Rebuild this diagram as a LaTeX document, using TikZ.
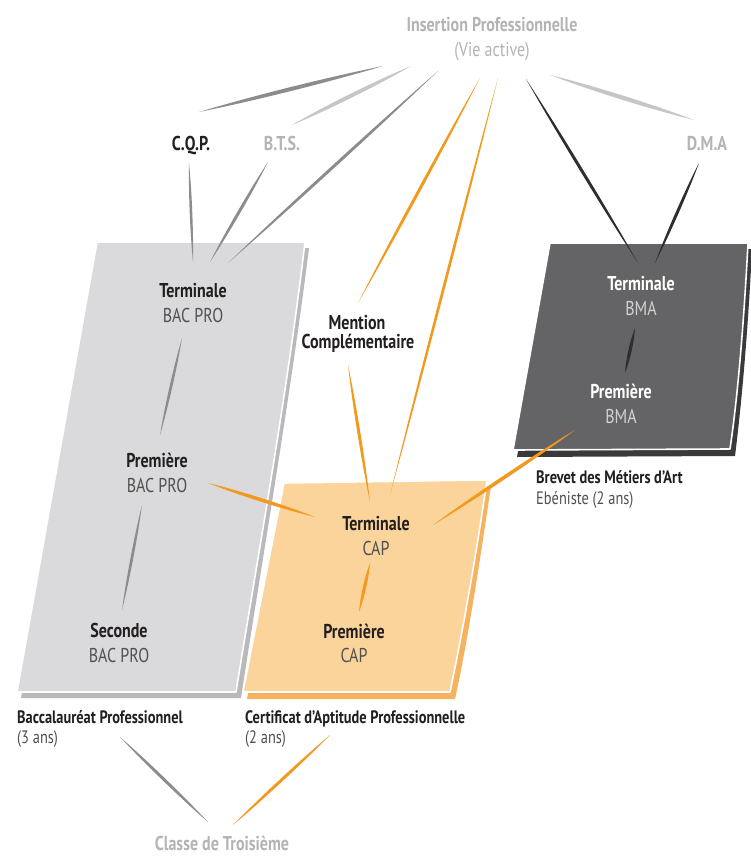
\documentclass[tikz,border=0pt]{standalone}
\usepackage{fontspec}
\setmainfont{PT Sans}[FakeStretch=0.8]
\usetikzlibrary{calc}
\definecolor{titlegray}{HTML}{B4B4B4}
\definecolor{dtext}{HTML}{231F20}
\definecolor{stext}{HTML}{505050}
\definecolor{bmatext}{HTML}{D2D2D2}
\definecolor{gmid}{HTML}{8C8C8C}
\definecolor{glight}{HTML}{C6C6C6}
\definecolor{gdark}{HTML}{2E2E30}
\definecolor{corange}{HTML}{F39A1E}
\definecolor{pgray}{HTML}{DADADC}
\definecolor{pgrayback}{HTML}{B9B9BC}
\definecolor{porange}{HTML}{FBD49B}
\definecolor{porangeback}{HTML}{F6B35F}
\definecolor{pdark}{HTML}{646466}
\definecolor{pdarkback}{HTML}{3A3A3C}
% tapered stroke: #3 = control offset (max width = 1.5 x #3)
\newcommand{\taperline}[4]{%
  \fill[#4] (#1) .. controls ($(#1)!0.3!(#2)!#3!90:(#2)$) and ($(#1)!0.7!(#2)!#3!90:(#2)$) .. (#2)
    .. controls ($(#1)!0.7!(#2)!#3!-90:(#2)$) and ($(#1)!0.3!(#2)!#3!-90:(#2)$) .. (#1) -- cycle;}
\tikzset{
  lbl/.style={inner sep=0pt, anchor=base, text=dtext, font=\fontsize{20}{22}\selectfont\bfseries},
  sublbl/.style={inner sep=0pt, anchor=base, text=stext, font=\fontsize{20}{22}\selectfont},
  wlbl/.style={lbl, text=white},
  wsub/.style={sublbl, text=bmatext},
  ttl/.style={inner sep=0pt, anchor=base, text=titlegray, font=\fontsize{20}{22}\selectfont\bfseries},
  ttlsub/.style={inner sep=0pt, anchor=base, text=titlegray, font=\fontsize{20}{22}\selectfont},
  caplbl/.style={inner sep=0pt, anchor=base west, text=dtext, font=\fontsize{18}{20}\selectfont\bfseries},
  capsub/.style={inner sep=0pt, anchor=base west, text=stext, font=\fontsize{18}{20}\selectfont},
  frontpage/.style={draw=white, line width=1.6pt, line join=round},
}
\begin{document}
\begin{tikzpicture}[x=1pt,y=-1pt]
\useasboundingbox[fill=white] (0,0) rectangle (750,856);

% ---------- panels ----------
% left (Bac Pro)
\fill[pgrayback] (101,248) -- (309,248) .. controls (290,400) and (262,560) .. (241,698) -- (21,698) -- cycle;
\path[frontpage, fill=pgray] (97,242) -- (305,242) .. controls (287,395) and (258,555) .. (236,692) -- (17,692) -- cycle;
% middle (CAP)
\fill[porangeback] (288,488) -- (491,486) .. controls (480,560) and (468,640) .. (455,699) -- (247,699) -- cycle;
\path[frontpage, fill=porange] (284,483) -- (487,480) .. controls (477,550) and (463,630) .. (450,692) -- (243,692) -- cycle;
% right (BMA)
\fill[pdarkback] (554,249) -- (752,249) .. controls (748,330) and (742,400) .. (735,456) -- (517,457) -- cycle;
\path[frontpage, fill=pdark] (550,243) -- (748,243) .. controls (744,320) and (738,395) .. (730,449) -- (513,450) -- cycle;

% ---------- connector ends ----------
\coordinate (ip1) at (383,66);  \coordinate (cqp1) at (199,112);
\coordinate (ip2) at (411,66);  \coordinate (bts1) at (292,125);
\coordinate (ip3) at (438,71);  \coordinate (tb3) at (228,263);
\coordinate (ip4) at (480,78);  \coordinate (mc1) at (358,303);
\coordinate (ip5) at (498,78);  \coordinate (tc2) at (390,495);
\coordinate (ip6) at (526,79);  \coordinate (tm1) at (638,263);
\coordinate (ip7) at (550,75);  \coordinate (dma1) at (694,120);
\coordinate (dma2) at (699,163); \coordinate (tm2) at (655,263);
\coordinate (cqp2) at (189,163); \coordinate (tb1) at (193,262);
\coordinate (bts2) at (268,162); \coordinate (tb2) at (210,262);
\coordinate (tb4) at (182,338);  \coordinate (pb1) at (160,435);
\coordinate (pb2) at (142,505);  \coordinate (sb1) at (122,610);
\coordinate (pb3) at (208,483);  \coordinate (tc1) at (315,517);
\coordinate (mc2) at (348,365);  \coordinate (tc3) at (370,502);
\coordinate (pm2) at (575,430);  \coordinate (tc4) at (433,525);
\coordinate (tc5) at (370,563);  \coordinate (pc1) at (359,612);
\coordinate (tm3) at (635,328);  \coordinate (pm1) at (625,373);
\coordinate (bp) at (120,737);   \coordinate (ct1) at (208,822);
\coordinate (cp) at (330,735);   \coordinate (ct2) at (233,825);

% ---------- connectors ----------
\taperline{ip1}{cqp1}{2.6pt}{gmid}
\taperline{ip2}{bts1}{2.6pt}{glight}
\taperline{ip3}{tb3}{2pt}{gmid}
\taperline{ip4}{mc1}{2pt}{corange}
\taperline{ip5}{tc2}{1.8pt}{corange}
\taperline{ip6}{tm1}{2pt}{gdark}
\taperline{ip7}{dma1}{2.8pt}{glight}
\taperline{dma2}{tm2}{2pt}{gdark}
\taperline{cqp2}{tb1}{1.7pt}{gmid}
\taperline{bts2}{tb2}{2pt}{gmid}
\taperline{tb4}{pb1}{1.8pt}{gmid}
\taperline{pb2}{sb1}{1.8pt}{gmid}
\taperline{pb3}{tc1}{2.4pt}{corange}
\taperline{mc2}{tc3}{2pt}{corange}
\taperline{pm2}{tc4}{2.4pt}{corange}
\taperline{tc5}{pc1}{2.2pt}{corange}
\taperline{tm3}{pm1}{2.2pt}{gdark}
\taperline{bp}{ct1}{2pt}{gmid}
\taperline{cp}{ct2}{2pt}{corange}

% ---------- texts ----------
\node[ttl] (ip) at (492,32) {Insertion Professionnelle};
\node[ttlsub] (va) at (492,57) {(Vie active)};
\node[lbl] (cqp) at (191,150) {C.Q.P.};
\node[ttl] (bts) at (282,150) {B.T.S.};
\node[ttl] (dma) at (707,150) {D.M.A};

\node[lbl] (tbac) at (193,297) {Terminale};
\node[sublbl] (tbac2) at (193,322) {BAC PRO};
\node[lbl] (pbac) at (157,467) {Première};
\node[sublbl] (pbac2) at (157,492) {BAC PRO};
\node[lbl] (sbac) at (119,637) {Seconde};
\node[sublbl] (sbac2) at (119,662) {BAC PRO};

\node[lbl] (men) at (357,329) {Mention};
\node[lbl] (comp) at (358,348) {Complémentaire};

\node[lbl] (tcap) at (376,530) {Terminale};
\node[sublbl] (tcap2) at (376,555) {CAP};
\node[lbl] (pcap) at (354,638) {Première};
\node[sublbl] (pcap2) at (354,662) {CAP};

\node[wlbl] (tbma) at (641,290) {Terminale};
\node[wsub] (tbma2) at (641,315) {BMA};
\node[wlbl] (pbma) at (621,398) {Première};
\node[wsub] (pbma2) at (621,423) {BMA};

\node[caplbl] (bma) at (536,483) {Brevet des Métiers d’Art};
\node[capsub] (bma2) at (536,504) {Ebéniste (2 ans)};
\node[caplbl] (bacp) at (17,723) {Baccalauréat Professionnel};
\node[capsub] (bacp2) at (17,743) {(3 ans)};
\node[caplbl] (capc) at (245,723) {Certificat d’Aptitude Professionnelle};
\node[capsub] (capc2) at (245,743) {(2 ans)};
\node[ttl] (troi) at (222,850) {Classe de Troisième};
\end{tikzpicture}
\end{document}
